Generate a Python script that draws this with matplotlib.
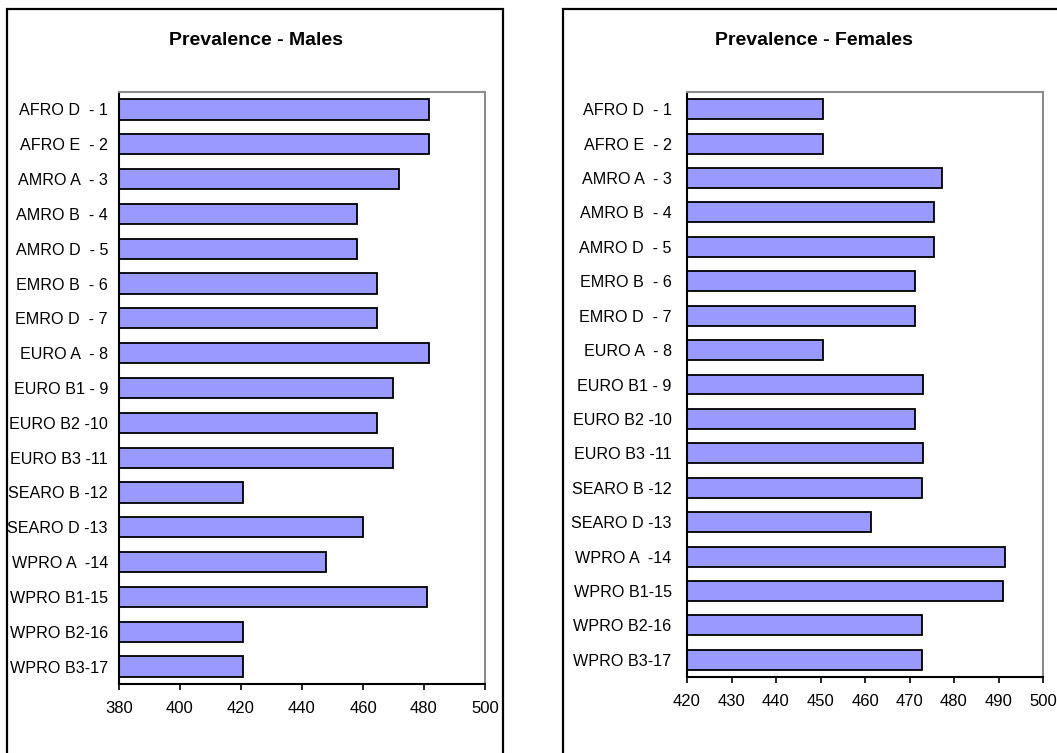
import matplotlib.pyplot as plt
from matplotlib.patches import Rectangle

plt.rcParams['font.family'] = ['Liberation Sans', 'DejaVu Sans']

regions = ["AFRO D  - 1", "AFRO E  - 2", "AMRO A  - 3", "AMRO B  - 4", "AMRO D  - 5",
           "EMRO B  - 6", "EMRO D  - 7", "EURO A  - 8", "EURO B1 - 9", "EURO B2 -10",
           "EURO B3 -11", "SEARO B -12", "SEARO D -13", "WPRO A  -14", "WPRO B1-15",
           "WPRO B2-16", "WPRO B3-17"]
males = [481.5, 481.5, 471.7, 458, 458, 464.5, 464.5, 481.5, 469.7, 464.5,
         469.7, 420.6, 460, 448, 481, 420.6, 420.6]
females = [450.6, 450.6, 477.2, 475.4, 475.4, 471.3, 471.3, 450.6, 473.1, 471.3,
           473.1, 472.7, 461.3, 491.5, 491, 472.7, 472.7]
male_ticks = [380, 400, 420, 440, 460, 480, 500]
female_ticks = [420, 430, 440, 450, 460, 470, 480, 490, 500]

W, H = 1057, 753
fig = plt.figure(figsize=(W/100, H/100), dpi=100)

def px(x0, y0, x1, y1):
    return [x0/W, 1-y1/H, (x1-x0)/W, (y1-y0)/H]

# outer chart frames
fig.patches.append(Rectangle((7/W, -0.05), 496/W, 1.05-9/H, transform=fig.transFigure,
                             fill=False, edgecolor='black', linewidth=1.6, clip_on=False))
fig.patches.append(Rectangle((563/W, -0.05), 0.6, 1.05-9/H, transform=fig.transFigure,
                             fill=False, edgecolor='black', linewidth=1.6, clip_on=False))

def panel(rect, vals, ticks, title, title_x, ypad):
    ax = fig.add_axes(rect)
    y = list(range(len(regions)))
    ax.barh(y, [v - ticks[0] for v in vals], left=ticks[0], height=0.58,
            color='#9999FF', edgecolor='black', linewidth=1.3)
    ax.set_ylim(len(regions) - 0.5, -0.5)
    ax.set_xlim(ticks[0], ticks[-1])
    ax.set_xticks(ticks)
    ax.set_yticks(y)
    ax.set_yticklabels(regions)
    ax.tick_params(axis='y', length=0, pad=ypad, labelsize=11.6)
    ax.tick_params(axis='x', length=4, width=1.2, direction='out', pad=8, labelsize=12)
    for s in ['top', 'right']:
        ax.spines[s].set_color('#8c8c8c')
        ax.spines[s].set_linewidth(1.5)
    for s in ['left', 'bottom']:
        ax.spines[s].set_color('black')
        ax.spines[s].set_linewidth(1.5)
    fig.text(title_x/W, 1-40.6/H, title, ha='center', va='center',
             fontsize=14, fontweight='bold')
    return ax

panel(px(119, 92, 485, 684), males, male_ticks, "Prevalence - Males", 256, 8)
panel(px(687, 92, 1043, 677), females, female_ticks, "Prevalence - Females", 814, 11)

fig.savefig("out.png", dpi=100)
